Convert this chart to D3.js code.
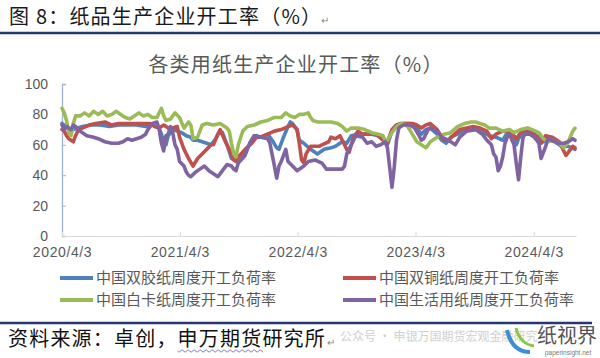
<!DOCTYPE html>
<html><head><meta charset="utf-8">
<script src="https://cdn.jsdelivr.net/npm/d3@7"></script>
<style>html,body{margin:0;padding:0;background:#fff;} svg{display:block;}</style>
</head><body><svg id="c" width="600" height="358"></svg>
<script>
// ---------- data (weeks counted from startDate, value in %) ----------
const startDate = "2020-04-03";
const endDate = "2024-08-12";
const xTickDates = ["2020-04-03","2021-04-03","2022-04-03","2023-04-03","2024-04-03"];
const xTickLabels = ["2020/4/3","2021/4/3","2022/4/3","2023/4/3","2024/4/3"];
const yTicks = [0,20,40,60,80,100];
const seriesNames = ["中国双胶纸周度开工负荷率","中国双铜纸周度开工负荷率","中国白卡纸周度开工负荷率","中国生活用纸周度开工负荷率"];

const shuangjiao = [[0,74],[2,72],[3,70],[5,70],[7,71],[9,72],[13,73],[17,73],[21,72],[25,73],[29,73],[33,73],[37,72],[40,73],[43,71],[44,67],[45,62],[46,60],[47,66],[49,70],[51,69],[53,68],[55,66],[57,65],[58,63],[60,63],[62,62],[64,61],[66,60],[68,64],[69,67],[71,68],[73,60],[75,51],[77,50],[79,53],[81,56],[84,62],[86,66],[88,65],[91,67],[93,63],[95,58],[96,57],[98,65],[100,72],[101,75],[102,74],[104,70],[105,63],[107,61],[110,57],[113,54],[116,57],[119,58],[121,59],[122,60],[124,62],[126,61],[128,66],[131,67],[134,67],[137,67],[140,66],[143,63],[144,60],[146,69],[148,73],[151,74],[154,74],[157,71],[159,67],[161,70],[163,71],[166,67],[168,63],[170,61],[172,65],[175,67],[178,70],[181,71],[184,71],[187,68],[189,66],[192,65],[195,63],[197,68],[200,66],[201,60],[202,64],[204,68],[206,69],[209,67],[211,65],[213,62],[215,63],[218,62],[221,59],[224,59],[227,57]];

const shuangtong = [[0,70],[1,69],[2,66],[3,64],[4,63],[5,62],[6,66],[7,69],[9,71],[12,73],[15,74],[19,75],[22,73],[25,74],[28,74],[31,74],[34,74],[37,74],[39,74],[41,72],[43,71],[45,73],[47,71],[49,71],[51,72],[52,65],[54,57],[56,51],[58,46],[60,51],[62,54],[64,57],[66,60],[67,60],[69,67],[70,70],[72,63],[74,57],[76,50],[77,49],[78,52],[81,57],[84,61],[86,65],[88,65],[91,67],[94,69],[97,70],[100,72],[102,73],[104,70],[105,61],[106,50],[107,48],[108,54],[110,59],[112,59],[114,59],[115,60],[118,62],[119,65],[121,64],[123,66],[125,60],[126,57],[127,55],[128,60],[129,65],[131,69],[133,67],[136,67],[139,67],[142,63],[144,62],[146,70],[148,73],[150,74],[152,74],[155,74],[157,73],[159,71],[161,73],[163,74],[166,70],[169,63],[171,63],[173,66],[176,70],[179,71],[182,72],[185,71],[188,69],[190,64],[192,67],[195,69],[198,69],[201,64],[202,66],[204,70],[207,69],[209,67],[212,61],[214,66],[217,65],[220,62],[223,53],[224,55],[226,59],[227,58]];

const baika = [[0,84],[1,81],[2,76],[3,68],[4,66],[5,74],[6,79],[8,79],[10,81],[12,79],[14,82],[16,80],[18,82],[20,79],[22,80],[24,82],[26,80],[28,78],[30,77],[32,79],[34,81],[36,79],[38,80],[40,78],[42,78],[44,84],[45,79],[46,76],[48,77],[50,81],[52,78],[54,71],[56,75],[57,73],[58,64],[60,65],[62,73],[64,74],[67,73],[70,74],[73,71],[74,69],[75,61],[76,54],[77,52],[78,60],[80,69],[82,72],[85,73],[88,75],[91,76],[94,78],[97,78],[99,81],[101,79],[103,78],[105,80],[107,80],[109,81],[110,78],[111,76],[113,75],[116,75],[119,75],[122,74],[124,72],[126,69],[128,71],[131,71],[134,70],[137,68],[140,67],[142,66],[143,63],[144,63],[146,68],[148,72],[150,74],[152,73],[153,72],[155,67],[157,62],[159,60],[161,58],[163,62],[165,64],[167,66],[169,67],[172,68],[175,72],[178,74],[181,75],[183,75],[185,74],[187,73],[189,71],[192,71],[195,69],[198,70],[200,68],[203,70],[206,71],[208,70],[211,68],[213,64],[215,62],[217,63],[220,61],[222,58],[224,62],[226,69],[227,71]];

const shenghuo = [[0,73],[1,70],[2,72],[3,71],[4,70],[5,73],[6,72],[8,69],[11,66],[14,65],[16,64],[19,62],[22,61],[25,61],[27,62],[29,64],[31,63],[33,64],[35,65],[37,67],[38,70],[40,74],[42,75],[43,70],[44,61],[45,56],[46,66],[47,67],[48,72],[49,68],[50,60],[51,57],[52,49],[54,46],[55,42],[56,40],[57,39],[59,42],[61,44],[63,46],[65,43],[67,41],[69,39],[71,43],[73,47],[75,46],[76,44],[77,43],[78,48],[81,53],[83,61],[85,66],[88,65],[91,64],[92,61],[94,46],[95,38],[96,46],[97,49],[99,57],[100,49],[102,46],[104,43],[107,46],[109,49],[112,50],[115,48],[117,44],[120,44],[124,44],[125,46],[126,54],[128,60],[130,66],[133,65],[135,61],[137,62],[139,59],[141,60],[143,62],[144,58],[145,45],[146,32],[147,45],[148,63],[149,71],[151,73],[154,73],[156,71],[158,66],[159,63],[160,64],[162,70],[163,71],[166,69],[168,65],[171,63],[174,60],[176,65],[179,69],[183,70],[186,67],[188,63],[190,60],[191,54],[192,52],[193,43],[194,46],[195,52],[196,61],[197,65],[198,67],[200,60],[201,48],[202,37],[203,52],[204,65],[205,67],[207,67],[209,65],[211,61],[212,51],[214,59],[215,64],[217,63],[220,61],[222,61],[224,62],[226,64],[227,63]];

// ---------- styles ----------
const colors = ["#4f81bd","#c0504d","#9bbb59","#8064a2"];
const cjk = "'Noto Sans CJK SC','Noto Sans',sans-serif";
const num = "'Liberation Sans',Arial,sans-serif";

const svg = d3.select("#c");
svg.append("rect").attr("width",600).attr("height",358).attr("fill","#fff");

const parse = d3.timeParse("%Y-%m-%d");
const t0 = parse(startDate);
const x = d3.scaleTime().domain([t0, parse(endDate)]).range([62, 576]);
const y = d3.scaleLinear().domain([0,100]).range([236, 84]);

// header
svg.append("text").attr("x",9).attr("y",24).attr("font-family",cjk).attr("font-size",20)
  .attr("letter-spacing",1.2).attr("fill","#1a1a1a").text("图 8：纸品生产企业开工率（%）");
svg.append("text").attr("x",321).attr("y",24).attr("font-family",cjk).attr("font-size",10)
  .attr("fill","#888").text("↵");
svg.append("line").attr("x1",0).attr("x2",600).attr("y1",33).attr("y2",33)
  .attr("stroke","#26386e").attr("stroke-width",2.5);

// chart title
svg.append("text").attr("x",296).attr("y",72).attr("text-anchor","middle").attr("font-family",cjk)
  .attr("font-size",20).attr("letter-spacing",1.2).attr("fill","#595959").text("各类用纸生产企业开工率（%）");

// axes
const yAxis = d3.axisLeft(y).tickValues(yTicks).tickSize(-4).tickPadding(14);
const gy = svg.append("g").attr("transform","translate(62,0)").call(yAxis);
gy.select(".domain").attr("stroke","#9fb3cc").attr("stroke-width",1.3);
gy.selectAll(".tick line").attr("stroke","#9fb3cc");
gy.selectAll(".tick text").attr("font-family",num).attr("font-size",14).attr("fill","#595959");

const xAxis = d3.axisBottom(x).tickValues(xTickDates.map(parse))
  .tickFormat((d,i)=>xTickLabels[i]).tickSize(-4).tickSizeOuter(0).tickPadding(11);
const gx = svg.append("g").attr("transform","translate(0,236)").call(xAxis);
gx.select(".domain").attr("stroke","#d9d9d9").attr("stroke-width",1.2);
gx.selectAll(".tick line").attr("stroke","#d9d9d9");
gx.selectAll(".tick text").attr("font-family",num).attr("font-size",14).attr("letter-spacing",0.6).attr("fill","#595959");

// lines
const allSeries = [shuangjiao, shuangtong, baika, shenghuo];
const line = d3.line().x(d=>x(d3.timeDay.offset(t0, d[0]*7))).y(d=>y(d[1]));
allSeries.forEach((s,i)=>{
  svg.append("path").datum(s).attr("d",line).attr("fill","none")
    .attr("stroke",colors[i]).attr("stroke-width",3.6)
    .attr("stroke-linejoin","round").attr("stroke-linecap","round");
});

// legend
const legPos = [[60,278],[343,278],[60,300],[343,300]];
seriesNames.forEach((n,i)=>{
  const [lx,ly] = legPos[i];
  svg.append("line").attr("x1",lx).attr("x2",lx+33).attr("y1",ly).attr("y2",ly)
    .attr("stroke",colors[i]).attr("stroke-width",4);
  svg.append("text").attr("x",lx+36).attr("y",ly+5).attr("font-family",cjk).attr("font-size",15)
    .attr("fill","#595959").text(n);
});

// bottom rule and source
svg.append("line").attr("x1",0).attr("x2",592).attr("y1",323).attr("y2",323)
  .attr("stroke","#26386e").attr("stroke-width",2.5);

const src = svg.append("text").attr("x",8).attr("y",346).attr("font-family",cjk).attr("font-size",20)
  .attr("letter-spacing",1.2).attr("fill","#111").text("资料来源：卓创，申万期货研究所");
const srcNode = src.node();
const off = srcNode.getSubStringLength(0,8), len = srcNode.getSubStringLength(8,4);
const wave = d3.path();
const wx0 = 8+off, wx1 = wx0+len, wy = 351;
wave.moveTo(wx0, wy);
for (let px = wx0; px < wx1; px += 3) { wave.lineTo(px+1.5, wy+ ((Math.round((px-wx0)/3))%2 ? -1.2 : 1.2)); }
svg.append("path").attr("d",wave.toString()).attr("fill","none").attr("stroke","#7b68c8").attr("stroke-width",0.9);
const srcEnd = 8+srcNode.getComputedTextLength();
svg.append("text").attr("x",srcEnd+1).attr("y",346).attr("font-family",cjk)
  .attr("font-size",10).attr("fill","#888").text("↵");

// watermark (after the source line)
svg.append("text").attr("x",srcEnd+14).attr("y",341).attr("font-family",cjk).attr("font-size",12)
  .attr("fill","#cfcfcf").text("公众号 · 申银万国期货宏观金融研究");

// logo
svg.append("path").attr("d","M507,330 Q512,352 530,352").attr("fill","none").attr("stroke","#3d8fd1").attr("stroke-width",4);
svg.append("path").attr("d","M516,328 Q520,344 534,346").attr("fill","none").attr("stroke","#8cc63f").attr("stroke-width",3);
svg.append("text").attr("x",537).attr("y",343).attr("font-family",cjk).attr("font-size",20)
  .attr("fill","#555").text("纸视界");
svg.append("text").attr("x",545).attr("y",355).attr("font-family",num).attr("font-size",6.5)
  .attr("fill","#777").text("paperinsight.net");
</script></body></html>
